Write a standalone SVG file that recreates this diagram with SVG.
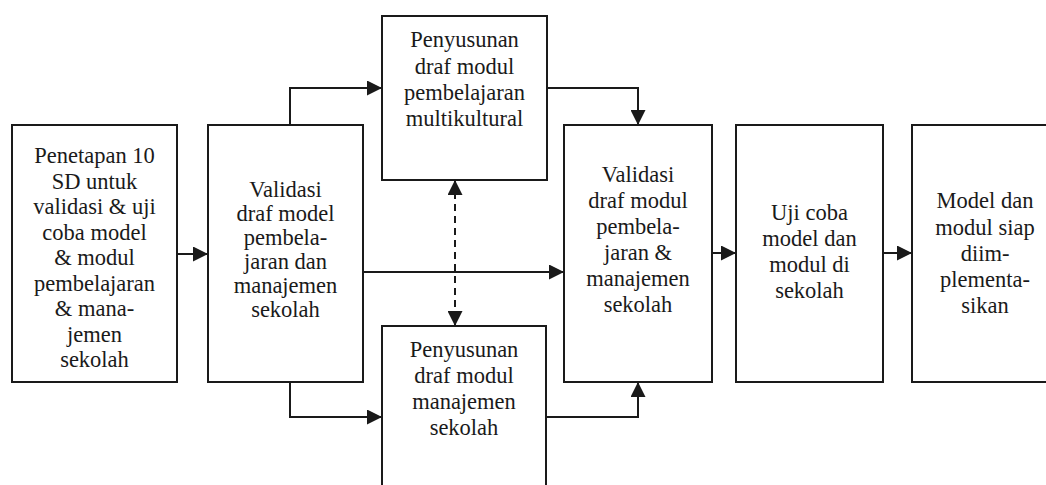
<svg xmlns="http://www.w3.org/2000/svg" width="1046" height="485" viewBox="0 0 1046 485">
<style>
.box{fill:#fff;stroke:#1a1a1a;stroke-width:2}
.t{font-family:'Liberation Serif','Times New Roman',serif;font-size:22.5px;fill:#1a1a1a;text-anchor:middle}
.c{fill:none;stroke:#1a1a1a;stroke-width:2}
.d{fill:none;stroke:#1a1a1a;stroke-width:2;stroke-dasharray:7 5}
</style>
<defs>
<marker id="ah" markerUnits="userSpaceOnUse" markerWidth="15" markerHeight="15" viewBox="0 0 15 15" refX="15" refY="7.5" orient="auto-start-reverse">
<path d="M0,0 L15,7.5 L0,15 z" fill="#1a1a1a"/>
</marker>
</defs>
<rect width="1046" height="485" fill="#fff"/>
<g id="connectors">
<path class="c" d="M177,254 H208" marker-end="url(#ah)"/>
<path class="c" d="M290,125 V88 H382" marker-end="url(#ah)"/>
<path class="c" d="M290,382 V417 H382" marker-end="url(#ah)"/>
<path class="c" d="M363,272 H564" marker-end="url(#ah)"/>
<path class="c" d="M547,88 H638 V125" marker-end="url(#ah)"/>
<path class="c" d="M546,417 H638 V382" marker-end="url(#ah)"/>
<path class="d" d="M455,180 V326" marker-start="url(#ah)" marker-end="url(#ah)"/>
<path class="c" d="M712,253 H736" marker-end="url(#ah)"/>
<path class="c" d="M883,253 H912" marker-end="url(#ah)"/>
</g>
<g id="n1">
<rect class="box" x="12" y="125" width="165" height="257"/>
<text class="t" x="94.5" y="163">Penetapan 10</text>
<text class="t" x="94.5" y="188.5">SD untuk</text>
<text class="t" x="94.5" y="214">validasi &amp; uji</text>
<text class="t" x="94.5" y="239.5">coba model</text>
<text class="t" x="94.5" y="265">&amp; modul</text>
<text class="t" x="94.5" y="290.5">pembelajaran</text>
<text class="t" x="94.5" y="316">&amp; mana-</text>
<text class="t" x="94.5" y="341.5">jemen</text>
<text class="t" x="94.5" y="367">sekolah</text>
</g>
<g id="n2">
<rect class="box" x="208" y="125" width="155" height="257"/>
<text class="t" x="285.5" y="197">Validasi</text>
<text class="t" x="285.5" y="221">draf model</text>
<text class="t" x="285.5" y="245">pembela-</text>
<text class="t" x="285.5" y="269">jaran dan</text>
<text class="t" x="285.5" y="293">manajemen</text>
<text class="t" x="285.5" y="317">sekolah</text>
</g>
<g id="n3">
<rect class="box" x="382" y="16" width="165" height="164"/>
<text class="t" x="464.5" y="47">Penyusunan</text>
<text class="t" x="464.5" y="73.5">draf modul</text>
<text class="t" x="464.5" y="100">pembelajaran</text>
<text class="t" x="464.5" y="126">multikultural</text>
</g>
<g id="n4">
<rect class="box" x="382" y="326" width="164" height="175"/>
<text class="t" x="464" y="357">Penyusunan</text>
<text class="t" x="464" y="383">draf modul</text>
<text class="t" x="464" y="409">manajemen</text>
<text class="t" x="464" y="435">sekolah</text>
</g>
<g id="n5">
<rect class="box" x="564" y="125" width="148" height="257"/>
<text class="t" x="638" y="182">Validasi</text>
<text class="t" x="638" y="208">draf modul</text>
<text class="t" x="638" y="234">pembela-</text>
<text class="t" x="638" y="260">jaran &amp;</text>
<text class="t" x="638" y="286">manajemen</text>
<text class="t" x="638" y="312">sekolah</text>
</g>
<g id="n6">
<rect class="box" x="736" y="125" width="147" height="257"/>
<text class="t" x="809.5" y="220">Uji coba</text>
<text class="t" x="809.5" y="246">model dan</text>
<text class="t" x="809.5" y="272">modul di</text>
<text class="t" x="809.5" y="298">sekolah</text>
</g>
<g id="n7">
<rect class="box" x="912" y="125" width="150" height="257"/>
<text class="t" x="985" y="208">Model dan</text>
<text class="t" x="985" y="235">modul siap</text>
<text class="t" x="985" y="261">diim-</text>
<text class="t" x="985" y="287">plementa-</text>
<text class="t" x="985" y="313">sikan</text>
</g>
</svg>
